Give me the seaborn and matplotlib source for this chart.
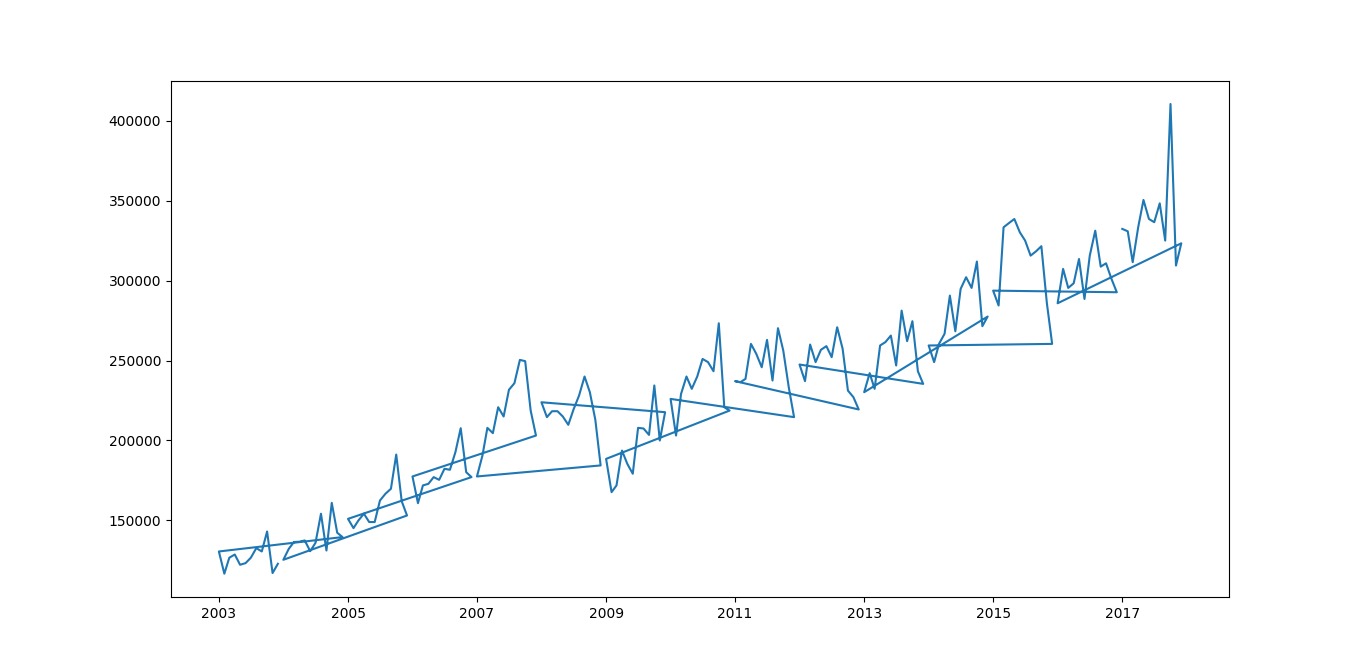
import matplotlib
matplotlib.use("Agg")
import matplotlib.pyplot as plt
import matplotlib.dates as mdates
import seaborn as sns
import pandas as pd

# monthly values, Jan..Dec, one list per year
years = list(range(2003, 2018))

v2003 = [130600, 116700, 126700, 128700, 122300, 123300, 126700, 132700, 130600, 143100, 117100, 122900]
v2004 = [125400, 132300, 136500, 136700, 137500, 130800, 136000, 154200, 131200, 161000, 142300, 139600]
v2005 = [151000, 145200, 150000, 154200, 149000, 149000, 162500, 166700, 169800, 191200, 162000, 153100]
v2006 = [177500, 160800, 171900, 172900, 177100, 175400, 182300, 181700, 192700, 207700, 180200, 177100]
v2007 = [177500, 190600, 207900, 204600, 220800, 215000, 231700, 235800, 250400, 249600, 218700, 203100]
v2008 = [223900, 214600, 218300, 218300, 215000, 209800, 219500, 228100, 240000, 230200, 213000, 184400]
v2009 = [188500, 167700, 171900, 193700, 185400, 179200, 207900, 207500, 203500, 234400, 200000, 217700]
v2010 = [226000, 203100, 229000, 240000, 232300, 240000, 251000, 249000, 243300, 273300, 220800, 218700]
v2011 = [237100, 236500, 238500, 260400, 254200, 245800, 262900, 237500, 270200, 256200, 233300, 214600]
v2012 = [247500, 237100, 260000, 249000, 256700, 259000, 252100, 270800, 257300, 231200, 227100, 219400]
v2013 = [230200, 242100, 232300, 259400, 261500, 265600, 246900, 281200, 262100, 274600, 243300, 235400]
v2014 = [259400, 249000, 260500, 266700, 290600, 268300, 294800, 302100, 295400, 311900, 271500, 277500]
v2015 = [293700, 284400, 333300, 336000, 338500, 330200, 325000, 315600, 318300, 321500, 286000, 260400]
v2016 = [285800, 307300, 295400, 298300, 313500, 288500, 315600, 331200, 308700, 310800, 301000, 292700]
v2017 = [332300, 330800, 311500, 333300, 350400, 338500, 336500, 348300, 325000, 410400, 309400, 323300]

values = [v2003, v2004, v2005, v2006, v2007, v2008, v2009, v2010,
          v2011, v2012, v2013, v2014, v2015, v2016, v2017]

# tick years shown on the x axis
tick_years = years[::2]

# rows come year ascending but month descending within each year
rows = []
for y, vals in zip(years, values):
    for m in range(12, 0, -1):
        rows.append({"date": pd.Timestamp(year=y, month=m, day=1), "value": vals[m - 1]})
df = pd.DataFrame(rows)

fig, ax = plt.subplots(figsize=(13.66, 6.71), dpi=100)
sns.lineplot(data=df, x="date", y="value", sort=False, estimator=None, ax=ax)
ax.set_xlabel("")
ax.set_ylabel("")

ax.set_xticks([pd.Timestamp(year=y, month=1, day=1) for y in tick_years])
ax.xaxis.set_major_formatter(mdates.DateFormatter("%Y"))

plt.savefig("out.png", dpi=100)
plt.close()
